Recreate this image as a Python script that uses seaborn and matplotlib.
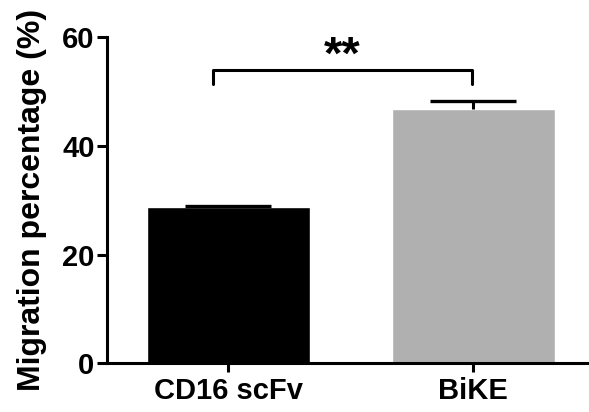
import numpy as np
import pandas as pd
import seaborn as sns
from matplotlib import pyplot as plt

groups = ["CD16 scFv", "BiKE"]
means = [28.7, 46.9]
errors = [0.3, 1.3]
bar_colors = ["#000000", "#b0b0b0"]
sig_label = "**"

sns.set_style("ticks")
plt.rcParams["font.family"] = ["Liberation Sans", "DejaVu Sans"]
plt.rcParams["font.weight"] = "bold"
for key in ["text.color", "axes.labelcolor", "xtick.color", "ytick.color",
            "axes.edgecolor"]:
    plt.rcParams[key] = "black"

df = pd.DataFrame({"group": groups, "mean": means})

fig = plt.figure(figsize=(5.89, 4.12), dpi=100)
ax = fig.add_axes([0.1817, 0.118, 0.8183, 0.7913])

sns.barplot(data=df, x="group", y="mean", hue="group", palette=bar_colors,
            width=0.665, saturation=1, legend=False, ax=ax)

# upper-only error bars (hide the lower cap)
x = np.arange(len(groups))
eb = ax.errorbar(x, means, yerr=[np.zeros(len(errors)), errors], fmt="none",
                 ecolor="black", elinewidth=2.2, capsize=31, capthick=2.4)
eb[1][0].set_visible(False)

# significance bracket
y_br, y_leg = 54.0, 51.5
ax.plot([-0.06, -0.06, 0.996, 0.996], [y_leg, y_br, y_br, y_leg],
        color="black", lw=2.2, solid_capstyle="round")
ax.text(0.465, 56.5, sig_label, ha="center", va="center",
        fontsize=34, fontweight="bold")

ax.set_xlim(-0.494, 1.473)
ax.set_ylim(0, 60)
ax.set_yticks([0, 20, 40, 60])
ax.set_xlabel(None)
ax.set_ylabel("Migration percentage (%)", fontsize=23, fontweight="bold",
              labelpad=11)
ax.tick_params(axis="y", labelsize=21, width=2.2, length=7, pad=2)
ax.tick_params(axis="x", labelsize=21, width=2.2, length=6.5, pad=3)
for lab in ax.get_xticklabels() + ax.get_yticklabels():
    lab.set_fontweight("bold")

sns.despine(ax=ax)
ax.spines["left"].set_linewidth(2.2)
ax.spines["bottom"].set_linewidth(2.2)

fig.savefig("out.png", dpi=100)
